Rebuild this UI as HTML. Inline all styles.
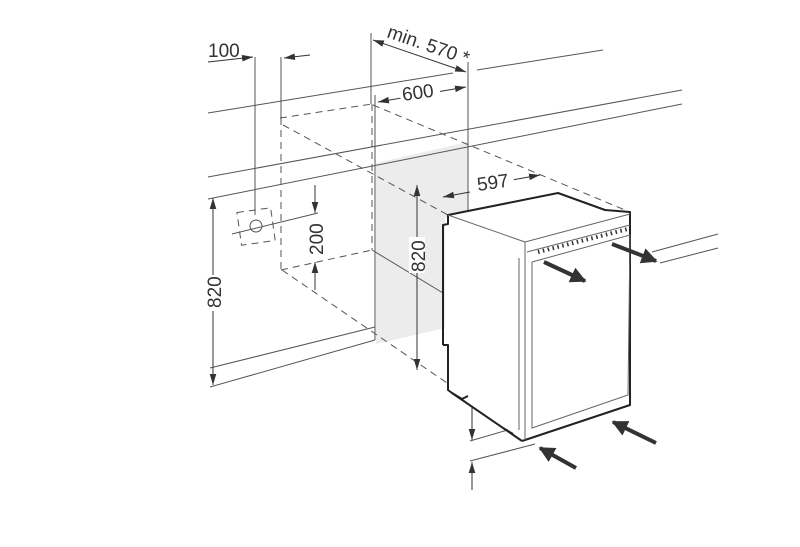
<!DOCTYPE html>
<html><head><meta charset="utf-8"><style>
html,body{margin:0;padding:0;background:#fff;}
svg{display:block;}
text{font-family:"Liberation Sans",sans-serif;font-size:19px;fill:#333;}
</style></head><body>
<svg width="800" height="547" viewBox="0 0 800 547" xmlns="http://www.w3.org/2000/svg">
<defs>
<marker id="a" viewBox="0 0 10 6" refX="10" refY="3" markerWidth="11" markerHeight="7" orient="auto-start-reverse" markerUnits="userSpaceOnUse"><path d="M0,0L10,3L0,6z" fill="#333"/></marker>
<marker id="b" viewBox="0 0 10 10" refX="9" refY="5" markerWidth="16" markerHeight="16" orient="auto" markerUnits="userSpaceOnUse"><path d="M0,0L10,5L0,10z" fill="#333"/></marker>
</defs>
<polygon points="376,163 468,142 468,210 445,218 445,328 376,344" fill="#ececec"/>
<g stroke="#555" stroke-width="1" fill="none">
<line x1="208" y1="113" x2="453" y2="73"/>
<line x1="477" y1="70" x2="603" y2="50"/>
<line x1="208" y1="177" x2="682" y2="90"/>
<line x1="208" y1="199" x2="682" y2="104"/>
<line x1="210" y1="368" x2="375" y2="327"/>
<line x1="210" y1="387" x2="375" y2="340"/>
<line x1="375" y1="327" x2="375" y2="340"/>
<line x1="652" y1="252" x2="718" y2="234"/>
<line x1="660" y1="263" x2="718" y2="248"/>
<line x1="470" y1="441" x2="525" y2="425"/>
<line x1="470" y1="461" x2="535" y2="444"/>
<line x1="255" y1="57" x2="255" y2="215"/>
<line x1="281" y1="57" x2="281" y2="118"/>
<line x1="371" y1="33" x2="371" y2="104"/>
<line x1="375" y1="95" x2="375" y2="327"/>
<line x1="468" y1="62" x2="468" y2="210"/>
<line x1="372" y1="250" x2="443" y2="293"/>
</g>
<g stroke="#555" stroke-width="1" fill="none" stroke-dasharray="7,5">
<line x1="280" y1="118" x2="372" y2="104"/>
<line x1="281" y1="118" x2="281" y2="270"/>
<line x1="372" y1="104" x2="372" y2="250"/>
<line x1="281" y1="270" x2="372" y2="250"/>
<line x1="373" y1="105" x2="625" y2="210"/>
<line x1="283" y1="125" x2="448" y2="215"/>
<line x1="282" y1="270" x2="450" y2="385"/>
<rect x="239" y="210" width="34" height="33" transform="rotate(-8 256 226)"/>
</g>
<g stroke="#555" stroke-width="1" fill="none">
<circle cx="256" cy="226" r="6"/>
<line x1="232" y1="234" x2="318" y2="213"/>
</g>
<g stroke="#333" stroke-width="1" fill="none">
<line x1="208" y1="62" x2="253" y2="57" marker-end="url(#a)"/>
<line x1="310" y1="55" x2="284" y2="58" marker-end="url(#a)"/>
<line x1="373" y1="40" x2="466" y2="72" marker-start="url(#a)" marker-end="url(#a)"/>
<line x1="378" y1="102" x2="466" y2="87" marker-start="url(#a)" marker-end="url(#a)"/>
<line x1="470" y1="192" x2="443" y2="197" marker-end="url(#a)"/>
<line x1="512" y1="180" x2="540" y2="175" marker-end="url(#a)"/>
<line x1="213" y1="198" x2="213" y2="385" marker-start="url(#a)" marker-end="url(#a)"/>
<line x1="315" y1="185" x2="315" y2="213" marker-end="url(#a)"/>
<line x1="315" y1="290" x2="315" y2="262" marker-end="url(#a)"/>
<line x1="417" y1="185" x2="417" y2="370" marker-start="url(#a)" marker-end="url(#a)"/>
<line x1="472" y1="405" x2="472" y2="440" marker-end="url(#a)"/>
<line x1="472" y1="490" x2="472" y2="462" marker-end="url(#a)"/>
</g>
<rect x="400" y="84" width="40" height="18" fill="#fff" transform="rotate(-8 420 93)"/>
<rect x="474" y="174" width="40" height="18" fill="#fff" transform="rotate(-8 494 183)"/>
<text x="208" y="57">100</text>
<text x="0" y="0" transform="translate(386,37) rotate(19)">min. 570 *</text>
<text x="0" y="0" transform="translate(403,101) rotate(-8)">600</text>
<text x="0" y="0" transform="translate(478,191) rotate(-8)">597</text>
<rect x="205" y="275" width="16" height="36" fill="#fff"/>
<text transform="translate(221,308) rotate(-90)">820</text>
<rect x="307" y="219" width="16" height="36" fill="#fff"/>
<text transform="translate(323,255) rotate(-90)">200</text>
<rect x="409" y="237" width="16" height="36" fill="#fff"/>
<text transform="translate(425,272) rotate(-90)">820</text>
<text transform="translate(488,400) rotate(-90)">100</text>
<polygon points="448,215 558,193 605,210 630,212 630,405 522,441 449,390" fill="#fff"/>
<g stroke="#222" stroke-width="2" fill="none" stroke-linejoin="round">
<polyline points="443,345 443,225 448,224 448,215 558,193 605,210 630,212 630,405 522,441"/>
<polyline points="443,345 448,345 448,390 452,393 522,441"/>
<polyline points="452,393 462,399 468,396"/>
<polyline points="503,428 513,434"/>
</g>
<g stroke="#666" stroke-width="1" fill="none">
<line x1="448" y1="215" x2="525" y2="242"/>
<line x1="525" y1="242" x2="630" y2="214"/>
<line x1="525" y1="242" x2="525" y2="440"/>
<line x1="527" y1="252" x2="630" y2="225"/>
<polyline points="532,262 630,235 628,395 532,428 532,262"/>
<line x1="519" y1="258" x2="519" y2="430"/>
</g>
<line x1="538" y1="252" x2="628" y2="229" stroke="#333" stroke-width="4" stroke-dasharray="1.5,3.5"/>
<g stroke="#333" stroke-width="4" fill="none">
<line x1="544" y1="262" x2="585" y2="281" marker-end="url(#b)"/>
<line x1="612" y1="244" x2="656" y2="261" marker-end="url(#b)"/>
<line x1="576" y1="468" x2="540" y2="448" marker-end="url(#b)"/>
<line x1="656" y1="443" x2="613" y2="422" marker-end="url(#b)"/>
</g>
</svg>
</body></html>
